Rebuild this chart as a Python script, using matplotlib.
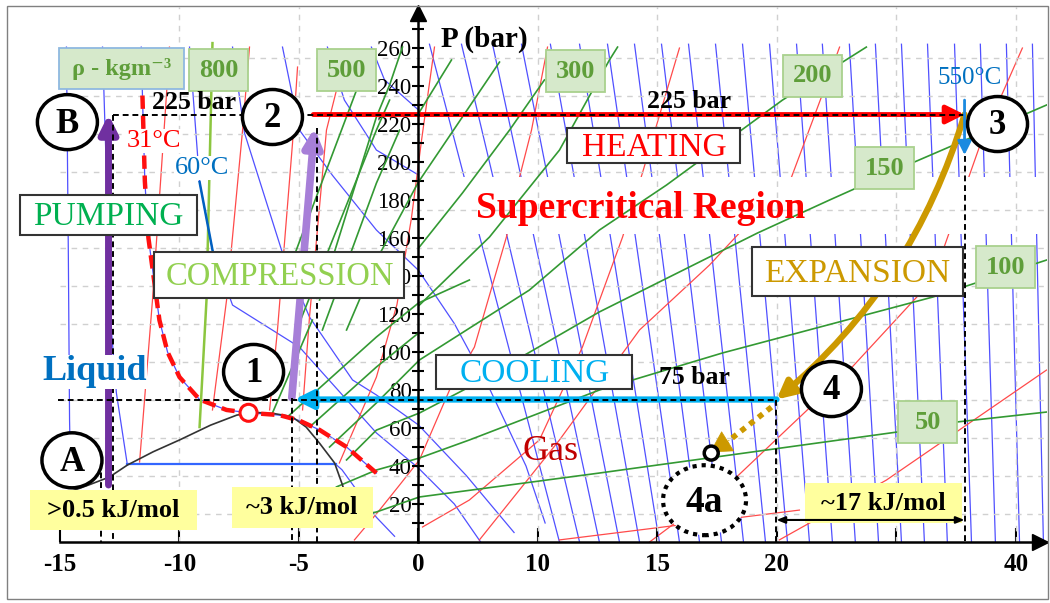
import numpy as np
import matplotlib
matplotlib.use("Agg")
import matplotlib.pyplot as plt
from matplotlib.patches import Ellipse, Rectangle, FancyArrowPatch

plt.rcParams['font.family'] = ['Liberation Serif', 'DejaVu Serif']

# ---------------- data (x: enthalpy-like axis position, y: pressure in bar) ----------------
x_ticks = [-15, -10, -5, 0, 5, 10, 15, 20, 25]
x_tick_labels = ['-15', '-10', '-5', '0', '10', '15', '20', '', '40']
y_ticks = list(range(20, 261, 20))
y_minor = list(range(10, 271, 20))
grid_p = list(range(15, 256, 20))
grid_u = [-10, -5, 5, 10, 15, 20, 25]

# saturation dome
dome_u = [-14.73, -13.8, -12.93, -12.18, -11.1, -10.0, -8.7, -7.6, -6.8, -6.0, -5.3, -4.7, -4.14, -3.51, -3.18, -3.0]
dome_p = [25.8, 30, 34.2, 40.5, 47.5, 53.7, 61.5, 66.8, 68.2, 67.5, 66, 60.5, 52, 41.6, 30, 22]
# critical isotherm 31 C
crit_u = [-11.55, -11.45, -11.3, -10.84, -10.5, -10.0, -9.16, -8.03, -7.11, -5.82, -5.0, -4.14, -3.01, -1.76]
crit_p = [235, 190, 160, 116.8, 100, 86.8, 75, 69.5, 68, 66.8, 64, 59, 50, 36.3]

# isotherms right of the axis (u at 262 bar and at 0 bar)
blue_top_u = [0.46, 1.80, 3.10, 4.31, 5.52, 6.74, 7.91, 9.04, 10.17, 11.30, 12.43, 13.56,
              14.69, 15.82, 16.90, 18.03, 19.12, 20.21, 21.30, 22.43, 23.51, 24.60, 25.69]
blue_bot_u = [5.90, 6.74, 7.57, 8.41, 9.25, 10.08, 10.92, 11.76, 12.68, 13.60, 14.52, 15.44,
              16.36, 17.32, 18.28, 19.25, 20.21, 21.17, 22.13, 23.14, 24.14, 25.15, 26.15]
# isotherms left of the axis
blue_left = [
    ([-14.73, -14.65, -14.6, -14.55], [260.5, 150, 64, 30]),
    ([-13.22, -12.95, -12.85, -12.64, -12.18], [260.5, 150, 111.6, 78.4, 40.5]),
    ([-3.47, -3.2, -1.76, -1.0], [41, 38, 13, 3]),
    ([-9.58, -9.16, -8.62, -7.78, -4.98, -1.76, 0, 1.5, 2.6], [260.5, 189.5, 153.7, 124.7, 102.6, 57.4, 38.9, 20, 0]),
    ([-7.78, -7.28, -5.69, -4.56, -2.76, -1.76, 0, 2.0, 4.0], [260.5, 215.3, 152.1, 118.4, 85.3, 77.4, 61.6, 35, 5]),
    ([-5.69, -4.98, -3.60, -1.76, 0, 1.5, 3.0, 4.5, 5.3], [260.5, 216.8, 193, 164.2, 143, 115, 80, 40, 10]),
    ([-3.81, -3.10, -1.76, 0], [260.5, 232.6, 206.3, 193.2]),
    ([-1.97, -1.42, 0], [260.5, 243.2, 227.4]),
]
flat_u = [-12.18, -3.47]
flat_p = [41, 41]
t60_u = [-9.16, -8.62]
t60_p = [189.5, 153.7]

# isentropes
red_lines = [
    ([-10.42, -10.54, -11.13, -11.67], [260.5, 236.3, 127.4, 42.1]),
    ([-7.07, -7.36, -8.03, -8.62], [260.5, 216.8, 127.4, 69.5]),
    ([-5.06, -5.27, -5.90, -6.23], [250, 210, 111.6, 69.5]),
    ([-3.43, -3.85, -4.56, -4.85], [237.9, 216.8, 118.4, 69.5]),
    ([-3.31, -1.76, -0.9, -0.3, 0.13, 0.67], [41.6, 86.8, 125, 170, 211.6, 260.5]),
    ([-2.68, -1.63, -0.79, 0.04, 1.30, 2.34, 3.68, 4.23, 4.73, 5.40], [1.1, 16.8, 30, 43.2, 80, 102.6, 160.5, 192.1, 216.8, 260.5]),
    ([0.17, 2.13, 5.06, 6.86, 8.54, 9.37, 10.92], [7.9, 22.1, 53.7, 102.6, 160.5, 194.2, 260]),
    ([2.55, 5.90, 9.25, 12.18, 15.61, 16.86, 17.62], [1.1, 53.7, 111.6, 145.8, 192.1, 234.2, 260.5]),
    ([9.67, 13.31, 18.03, 21.51, 23.47, 24.31, 25.27], [0, 34.2, 90.5, 137.9, 207.9, 232.6, 260]),
    ([15.1, 19.58, 26.28], [1.1, 32.6, 90.5]),
    ([5.9, 15.94], [1.1, 16.8]),
]

# isochores
iso800_u = [-8.62, -8.87, -9.16]
iso800_p = [262.6, 127.4, 60.5]
green_lines = [
    ([-2.76, -1.76, 0.04, 7.57, 20.04, 22.55, 26.28], [13.2, 15.8, 23.7, 36.3, 57.9, 63.2, 68.4]),
    ([-3.43, -1.76, 0.04, 2.13, 7.57, 12.72, 21.51, 23.31, 26.28], [29, 37.9, 44.2, 53.7, 80, 99.5, 128.9, 136.3, 148.4]),
    ([-3.01, -1.76, 0.04, 2.13, 7.57, 14.18, 17.2, 20.75, 26.28], [43.2, 58.9, 67.9, 81.6, 121.1, 162.6, 180, 200, 230]),
    ([-3.72, -1.76, 0.04, 4.64, 7.57, 10.38, 15.23, 18.74], [50, 73.2, 95.8, 132.6, 164.2, 187.9, 232.6, 260.5]),
    ([-4.56, -1.76, 0.0], [60.5, 92.1, 110]),
    ([-5.40, -1.76, 0.0, 2.13], [66.8, 107.9, 125.8, 137.9]),
    ([0.04, 2.97, 5.90, 7.99, 8.33], [124.7, 160.5, 206.3, 253.7, 260.5]),
    ([-6.11, -4.44], [67.9, 116.8]),
    ([-5.10, -1.76, -1.21], [111.6, 216.8, 232.6]),
    ([-4.02, -1.76, -0.79], [111.6, 188.9, 216.8]),
    ([-3.01, -1.76, 0.0, 3.39], [111.6, 148.4, 189.5, 252.6]),
    ([-5.27, -2.59, -2.05], [148.4, 237.9, 253.7]),
    ([-4.14, -1.76, -1.21, -0.67], [127.4, 223.7, 240.5, 260.5]),
    ([0.04, 1.84, 3.81, 5.27], [155.3, 183.7, 216.8, 243.2]),
    ([0.04, 1.38], [226.3, 253.7]),
]

# cycle
P_high, P_low = 225, 75
u_pump = -12.97
u_B_dash, u_A_dash = -12.79, -13.3
u_1, u_2 = -5.3, -4.35
u_3, u_4 = 22.85, 14.98
u_4a, p_4a = 12.2, 47.2
crit_point = (-7.11, 68)
state_labels = ['B', '2', '3', '4', '1', 'A']
state_u = [-14.69, -6.11, 24.23, 17.28, -6.9, -14.5]
state_p = [221, 223.7, 220, 80.5, 89.5, 43]

density_labels = ['800', '500', '300', '200', '150', '100', '50']
density_u = [-8.35, -3.03, 6.57, 16.49, 19.52, 24.56, 21.32]
density_p = [248.4, 248.4, 247.9, 245.3, 196.8, 144.5, 62.9]

# ---------------- figure ----------------
W, H = 1050, 603
fig = plt.figure(figsize=(W / 100, H / 100), dpi=100)
ax = fig.add_axes([60 / W, 61 / H, 987 / W, 535 / H])
XL, YL = (-15, 26.3), (0, 281.6)
ax.set_xlim(*XL)
ax.set_ylim(*YL)
PXU = (XL[1] - XL[0]) / 987.0
PXB = (YL[1] - YL[0]) / 535.0

# frame around figure
fig.patches.append(Rectangle((7 / W, 4 / H), 1041 / W, 593 / H, transform=fig.transFigure,
                             fill=False, ec='#808080', lw=1.0))

for s in ['top', 'right']:
    ax.spines[s].set_visible(False)
ax.spines['left'].set_position(('data', 0))
ax.spines['bottom'].set_position(('data', 0))
for s in ['left', 'bottom']:
    ax.spines[s].set_linewidth(1.8)
    ax.spines[s].set_zorder(9)
ax.plot([26.0], [0], marker='>', ms=11, color='k', clip_on=False, zorder=9)
ax.plot([0], [278.5], marker='^', ms=11, color='k', clip_on=False, zorder=9)

ax.set_xticks(x_ticks)
ax.set_xticklabels(x_tick_labels, fontsize=18, fontweight='bold')
ax.tick_params(axis='x', direction='in', length=10, width=1.5, pad=8)
ax.set_yticks(y_ticks)
ax.set_yticklabels([str(v) for v in y_ticks], fontsize=16.5)
ax.set_yticks(y_minor, minor=True)
ax.tick_params(axis='y', which='both', direction='inout', length=8, width=1.5, pad=1)
ax.patch.set_alpha(0)

for p in grid_p:
    ax.axhline(p, color='#d0d0d0', lw=1, ls=(0, (4, 4)), zorder=1.6)
for u in grid_u:
    ax.axvline(u, color='#d0d0d0', lw=1, ls=(0, (4, 4)), zorder=1.6)

# background isolines
BLUE = '#5050ff'
for t, b in zip(blue_top_u, blue_bot_u):
    ax.plot([t, b], [262, 0], color=BLUE, lw=0.9, zorder=1)
for us, ps in blue_left:
    ax.plot(us, ps, color=BLUE, lw=0.9, zorder=1)
ax.plot([-11.6] + crit_u, [260.5] + crit_p, color=BLUE, lw=0.9, zorder=1)
ax.plot(flat_u, flat_p, color='#3366ff', lw=1.6, zorder=2)
ax.plot(t60_u, t60_p, color='#0060c0', lw=1.8, zorder=2)
for us, ps in red_lines:
    ax.plot(us, ps, color='#ff4a4a', lw=0.9, zorder=1)
# white band in the supercritical chart
ax.add_patch(Rectangle((0.05, 162), 26.3, 30, fc='white', ec='none', zorder=1.5))
ax.plot(iso800_u, iso800_p, color='#8cc63f', lw=1.8, zorder=1.7)
for us, ps in green_lines:
    ax.plot(us, ps, color='#339933', lw=1.2, zorder=1.7)

ax.plot(dome_u, dome_p, color='#333333', lw=1.2, zorder=2)
ax.plot(crit_u, crit_p, color='#ff1010', lw=3.2, ls=(0, (3, 1.5)), zorder=3)
ax.add_patch(Ellipse(crit_point, 17 * PXU, 17 * PXB, fc='white', ec='#ff1010', lw=2.2, zorder=4))

# dashed guide lines
dk = dict(color='k', lw=1.4, ls=(0, (3, 2)), zorder=5, clip_on=False)
ax.plot([u_B_dash, u_3], [P_high, P_high], **dk)
ax.plot([u_B_dash, u_B_dash], [P_high, 0], **dk)
ax.plot([u_A_dash, u_A_dash], [47, 0], **dk)
ax.plot([-15.1, u_4], [P_low, P_low], **dk)
ax.plot([u_1, u_1], [76, 0], **dk)
ax.plot([u_2 + 0.12, u_2 + 0.12], [218, 0], **dk)
ax.plot([u_4, u_4], [P_low, 0], **dk)
ax.plot([u_3, u_3], [203, 0], **dk)
ax.annotate('', xy=(u_3, 11.6), xytext=(u_4, 11.6),
            arrowprops=dict(arrowstyle='<|-|>,head_length=0.5,head_width=0.2', color='k', lw=1.5,
                            shrinkA=0, shrinkB=0), zorder=6)


def arrow(p0, p1, color, lw, hl=0.6, hw=0.3, ms=18, rad=0.0, z=4):
    a = FancyArrowPatch(p0, p1, arrowstyle=f'-|>,head_length={hl},head_width={hw}',
                        connectionstyle=f'arc3,rad={rad}', color=color, lw=lw,
                        mutation_scale=ms, shrinkA=0, shrinkB=0, zorder=z)
    ax.add_patch(a)


arrow((u_pump, 30), (u_pump, P_high), '#7030a0', 5)
arrow((u_1, 76), (u_2, 218), '#a77fd8', 5.5)
arrow((-4.4, P_high), (u_3, P_high), '#ff0000', 3.5)
arrow((u_4, P_low), (-5.2, P_low), '#00b0f0', 4.5)
arrow((u_3, P_high), (u_4, P_low), '#cc9900', 4.5, rad=-0.15)
arrow((u_3, 232.6), (u_3, 203.7), '#1a8ae0', 2.0, hl=0.6, hw=0.3, ms=14, z=6)
ax.plot([14.77, 12.8], [71, 51.5], color='#cc9900', lw=4, ls=(0, (1, 1)), zorder=4)
arrow((13.0, 53.5), (u_4a, p_4a), '#cc9900', 0.5, hl=0.8, hw=0.45, ms=18)
ax.add_patch(Ellipse((12.25, 46.8), 14 * PXU, 14 * PXB, fc='white', ec='k', lw=2.5, zorder=6))


# boxes
def box(cx, cy, wpx, hpx, fc, ec, lw=1.3, z=6):
    ax.add_patch(Rectangle((cx - wpx * PXU / 2, cy - hpx * PXB / 2), wpx * PXU, hpx * PXB,
                           fc=fc, ec=ec, lw=lw, zorder=z, clip_on=False))


GFC, GEC, GTX = '#d6e9cb', '#a9d18e', '#5f9e3a'
box(-12.41, 249.2, 125, 41, GFC, '#8fb9e0')
ax.text(-12.41, 249.2, 'ρ - kgm⁻³', color=GTX, fontsize=17.5, fontweight='bold',
        ha='center', va='center', zorder=7)
for lab, u, p in zip(density_labels, density_u, density_p):
    box(u, p, 59, 42, GFC, GEC)
    ax.text(u, p, lab, color=GTX, fontsize=19, fontweight='bold', ha='center', va='center', zorder=7)

YEL = '#ffff9e'
for txt, u, p, w, h in [('>0.5 kJ/mol', -12.78, 16.8, 167, 40), ('~3 kJ/mol', -4.87, 18.2, 141, 41),
                        ('~17 kJ/mol', 19.44, 20.5, 157, 40)]:
    box(u, p, w, h, YEL, 'none', lw=0, z=5.5)
    ax.text(u, p, txt, fontsize=19, fontweight='bold', ha='center', va='center', zorder=7)

for txt, u, p, w, h, c, fs in [('PUMPING', -12.99, 172, 177, 40, '#00b050', 24),
                               ('COMPRESSION', -5.82, 140.5, 250, 46, '#92d050', 23.5),
                               ('HEATING', 9.85, 208.7, 173, 35, '#ff0000', 24),
                               ('EXPANSION', 18.35, 142.4, 211, 49, '#cc9900', 24),
                               ('COOLING', 4.85, 89.5, 196, 34, '#00b0f0', 24)]:
    box(u, p, w, h, 'white', '#333333', lw=1.5)
    ax.text(u, p - 1, txt, color=c, fontsize=fs, ha='center', va='center', zorder=7)

# state circles
for lab, u, p in zip(state_labels, state_u, state_p):
    ax.add_patch(Ellipse((u, p), 60 * PXU, 55 * PXB, fc='white', ec='k', lw=2.5, zorder=8, clip_on=False))
    ax.text(u, p - 1, lab, fontsize=25, fontweight='bold', ha='center', va='center', zorder=9)
ax.add_patch(Ellipse((11.97, 22), 83 * PXU, 70 * PXB, fc='white', ec='k', lw=3, ls=(0, (1, 1.2)), zorder=8))
ax.text(11.97, 21, '4a', fontsize=27, fontweight='bold', ha='center', va='center', zorder=9)

# texts
wb = dict(fc='white', ec='none', pad=0.5)
ax.text(-9.41, 231.5, '225 bar', fontsize=18.5, fontweight='bold', ha='center', va='center', zorder=7)
ax.text(11.3, 232, '225 bar', fontsize=18.5, fontweight='bold', ha='center', va='center', zorder=7)
ax.text(11.55, 86.8, '75 bar', fontsize=18.5, fontweight='bold', ha='center', va='center', zorder=7)
ax.text(-11.05, 211, '31°C', color='#ff0000', fontsize=19, ha='center', va='center', zorder=7, bbox=wb)
ax.text(-9.04, 197, '60°C', color='#0070c0', fontsize=19, ha='center', va='center', zorder=7, bbox=wb)
ax.text(23.05, 244, '550°C', color='#0070c0', fontsize=18, ha='center', va='center', zorder=7)
ax.text(9.29, 175.8, 'Supercritical Region', color='#ff0000', fontsize=27, fontweight='bold',
        ha='center', va='center', zorder=7)
ax.text(-13.56, 89.5, 'Liquid', color='#0070c0', fontsize=26, fontweight='bold', ha='center', va='center', zorder=7,
        bbox=dict(fc='white', ec='none', pad=0.5))
ax.text(5.52, 47.4, 'Gas', color='#c00000', fontsize=26, ha='center', va='center', zorder=7)
ax.text(2.76, 264.7, 'P (bar)', fontsize=21, fontweight='bold', ha='center', va='center', zorder=7)

fig.savefig('out.png', dpi=100)
